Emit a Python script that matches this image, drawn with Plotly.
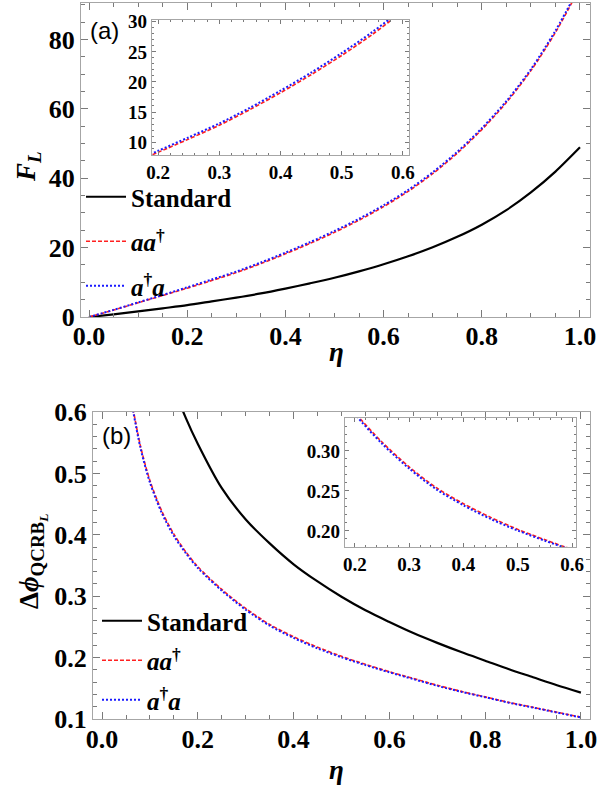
import plotly.graph_objects as go

# ---------------- data ----------------
eta = [0.0, 0.05, 0.1, 0.15, 0.2, 0.25, 0.3, 0.35, 0.4, 0.45, 0.5,
       0.55, 0.6, 0.65, 0.7, 0.75, 0.8, 0.85, 0.9, 0.95, 1.0]
F_standard = [0.0, 0.75, 1.6, 2.5, 3.4, 4.5, 5.6, 6.8, 8.2, 9.7, 11.3,
              13.15, 15.2, 17.5, 20.1, 23.1, 26.6, 30.8, 35.9, 41.9, 48.9]
F_aad = [0.0, 2.0, 4.1, 6.2, 8.3, 10.5, 12.8, 15.4, 18.2, 21.2, 24.4,
         27.9, 31.8, 36.2, 41.3, 47.2, 54.0, 61.8, 71.0, 82.0, 95.0]
F_ada = [0.0, 2.05, 4.2, 6.35, 8.55, 10.8, 13.1, 15.7, 18.55, 21.55, 24.8,
         28.3, 32.2, 36.6, 41.7, 47.6, 54.4, 62.2, 71.4, 82.5, 95.5]

eta_b = [0.06, 0.08, 0.1, 0.125, 0.15, 0.175, 0.2, 0.25, 0.3, 0.35, 0.4,
         0.45, 0.5, 0.55, 0.6, 0.65, 0.7, 0.75, 0.8, 0.85, 0.9, 0.95, 1.0]
dphi_standard = [1.0, 0.88, 0.79, 0.705, 0.64, 0.59, 0.548, 0.476, 0.425, 0.386, 0.352,
                 0.324, 0.299, 0.277, 0.258, 0.240, 0.224, 0.209, 0.195, 0.181, 0.168, 0.155, 0.143]
dphi_aad = [0.625, 0.545, 0.488, 0.438, 0.401, 0.372, 0.348, 0.311, 0.280, 0.254, 0.234,
            0.217, 0.202, 0.189, 0.177, 0.166, 0.155, 0.145, 0.136, 0.127, 0.119, 0.111, 0.103]
dphi_ada = [0.622, 0.542, 0.485, 0.435, 0.398, 0.370, 0.346, 0.309, 0.278, 0.252, 0.232,
            0.215, 0.2005, 0.1878, 0.176, 0.165, 0.154, 0.1443, 0.1355, 0.1265, 0.1186, 0.1105, 0.1025]

x_ticks = [0.0, 0.2, 0.4, 0.6, 0.8, 1.0]
yA_ticks = [0, 20, 40, 60, 80]
yB_ticks = [0.1, 0.2, 0.3, 0.4, 0.5, 0.6]
insA_x_ticks = [0.2, 0.3, 0.4, 0.5, 0.6]
insA_y_ticks = [10, 15, 20, 25, 30]
insB_x_ticks = [0.2, 0.3, 0.4, 0.5, 0.6]
insB_y_ticks = [0.20, 0.25, 0.30]

# ---------------- styles ----------------
W, H = 616, 795
SERIF = "Liberation Serif"
SANS = "Liberation Sans"
FRAME = "#a6a6a6"
TICKC = "#7a7a7a"
black_line = dict(color="black", width=2.2)
red_line = dict(color="#ff2020", width=1.6, dash="4px,2px")
blue_line = dict(color="#1a1aff", width=2.0, dash="2px,2px")

names = ["Standard", "<i>aa</i><sup>†</sup>", "<i>a</i><sup>†</sup><i>a</i>"]

fig = go.Figure()

def add(x, y, xa, ya, line, name, show, legend, group, order):
    fig.add_trace(go.Scatter(x=x, y=y, mode="lines", line=line, name=name,
                             line_shape="spline", line_smoothing=0.8,
                             xaxis=xa, yaxis=ya,
                             showlegend=show, legend=legend, legendgroup=group,
                             legendrank=order))

# panel (a)
add(eta, F_standard, "x", "y", black_line, names[0], True, "legend", "g1", 1)
add(eta, F_aad, "x", "y", red_line, names[1], True, "legend", "g2", 2)
add(eta, F_ada, "x", "y", blue_line, names[2], True, "legend", "g3", 3)
# inset (a)
add(eta, F_aad, "x3", "y3", red_line, names[1], False, "legend", "g2", 2)
add(eta, F_ada, "x3", "y3", blue_line, names[2], False, "legend", "g3", 3)
# panel (b)
add(eta_b, dphi_standard, "x2", "y2", black_line, names[0], True, "legend2", "h1", 1)
add(eta_b, dphi_aad, "x2", "y2", red_line, names[1], True, "legend2", "h2", 2)
add(eta_b, dphi_ada, "x2", "y2", blue_line, names[2], True, "legend2", "h3", 3)
# inset (b)
add(eta_b, dphi_aad, "x4", "y4", red_line, names[1], False, "legend2", "h2", 2)
add(eta_b, dphi_ada, "x4", "y4", blue_line, names[2], False, "legend2", "h3", 3)


def px_x(p):
    return p / W


def px_y(p):
    return 1 - p / H


def ax(domain, rng, ticks, fmt, size, minor_dtick, ticklen=7, minorlen=4,
       anchor=None, standoff=0):
    return dict(domain=domain, range=rng, tickmode="array", tickvals=ticks,
                tickformat=fmt, ticks="inside", ticklen=ticklen, tickwidth=1,
                tickcolor=TICKC, showline=True, linecolor=FRAME, linewidth=1.2,
                mirror="allticks", showgrid=False, zeroline=False, automargin=False,
                ticklabelstandoff=standoff,
                tickfont=dict(family=SERIF, size=size, color="black", weight="bold"),
                minor=dict(ticks="inside", dtick=minor_dtick, ticklen=minorlen,
                           tickcolor=TICKC, tickwidth=1, showgrid=False),
                anchor=anchor, fixedrange=True)

layout = dict(
    width=W, height=H, margin=dict(l=0, r=0, t=0, b=0, autoexpand=False),
    paper_bgcolor="white", plot_bgcolor="white",
    xaxis=ax([px_x(81), px_x(590)], [-0.0163, 1.0204], x_ticks, ".1f", 26, 0.05,
             anchor="y", standoff=-4),
    yaxis=ax([px_y(317), px_y(3)], [0, 90.5], yA_ticks, "d", 26, 5, anchor="x"),
    xaxis2=ax([px_x(93), px_x(590)], [-0.019, 1.019], x_ticks, ".1f", 26, 0.05,
              anchor="y2", standoff=-3),
    yaxis2=ax([px_y(719), px_y(412)], [0.1, 0.6], yB_ticks, ".1f", 26, 0.02, anchor="x2"),
    xaxis3=ax([px_x(152), px_x(409)], [0.19, 0.61], insA_x_ticks, ".1f", 19, 0.02, 4, 2,
              anchor="y3"),
    yaxis3=ax([px_y(155), px_y(20)], [7.85, 30.3], insA_y_ticks, "d", 19, 1, 4, 2,
              anchor="x3"),
    xaxis4=ax([px_x(345), px_x(576)], [0.182, 0.607], insB_x_ticks, ".1f", 19, 0.02, 4, 2,
              anchor="y4"),
    yaxis4=ax([px_y(547), px_y(418)], [0.18, 0.341], insB_y_ticks, ".2f", 19, 0.01, 4, 2,
              anchor="x4"),
    legend=dict(x=px_x(81), y=px_y(174), xanchor="left", yanchor="top",
                bgcolor="rgba(0,0,0,0)", borderwidth=0, itemwidth=40,
                tracegroupgap=9,
                font=dict(family=SERIF, size=25, color="black", weight="bold")),
    legend2=dict(x=px_x(97), y=px_y(598), xanchor="left", yanchor="top",
                 bgcolor="rgba(0,0,0,0)", borderwidth=0, itemwidth=40,
                 tracegroupgap=4,
                 font=dict(family=SERIF, size=25, color="black", weight="bold")),
)
fig.update_layout(**layout)

ann_font = dict(family=SERIF, size=27, color="black")


def label(x, y, text, font, angle=0):
    fig.add_annotation(x=px_x(x), y=px_y(y), xref="paper", yref="paper",
                       xanchor="center", yanchor="middle", textangle=angle,
                       text=text, showarrow=False, font=font)


label(336, 352, "<b><i>η</i></b>", ann_font)
label(336, 770, "<b><i>η</i></b>", ann_font)
label(28, 167, "<b><i>F</i></b><sub><b><i>L</i></b></sub>", ann_font, -90)
label(32, 562, "<b>Δ<i>ϕ</i></b><sub><b>QCRB</b><sub><b><i>L</i></b></sub></sub>",
      ann_font, -90)
label(104, 31, "(a)", dict(family=SANS, size=24, color="black"))
label(116, 435, "(b)", dict(family=SANS, size=24, color="black"))

fig.write_html("out.html")
